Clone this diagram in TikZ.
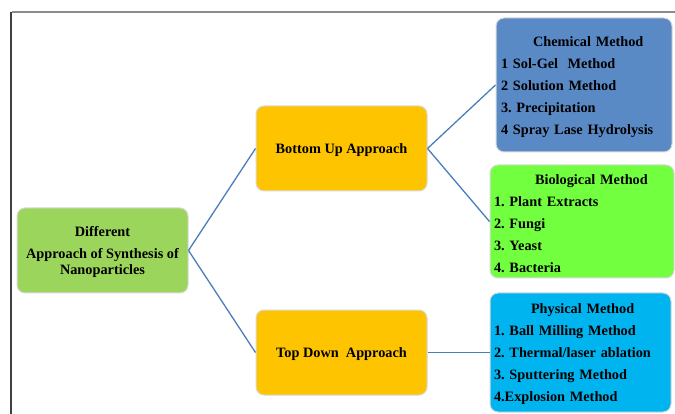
\documentclass[tikz,border=0pt]{standalone}
\usepackage{fontspec}
\setmainfont{Liberation Serif}
\frenchspacing
\definecolor{leafgreen}{HTML}{9CD55B}
\definecolor{amber}{HTML}{FFC400}
\definecolor{steelblue}{HTML}{5A8AC6}
\definecolor{limegreen}{HTML}{72FF40}
\definecolor{skyblue}{HTML}{00B4F0}
\definecolor{linkblue}{HTML}{4A7EBB}
\begin{document}
\begin{tikzpicture}[x=1pt,y=-1pt,
        box/.style={draw=white!85!black, line width=1pt, rounded corners=8pt,
            font=\bfseries\fontsize{14.3}{22}\selectfont},
        approach/.style={box, fill=amber, text depth=0pt, minimum width=171pt, minimum height=85pt},
        method/.style={box, align=left, inner ysep=2pt},
        link/.style={draw=linkblue, line width=1.3pt}]
        \useasboundingbox (0,0) rectangle (675,414);
        \fill[white] (0,0) rectangle (675,414);
        %draw the outer frame
        \draw[line width=1.5pt, color=gray!90] (11.5,12) -- (675,12);
        \draw[line width=1.5pt, color=black!75] (11,12) -- (11,414);

        %main node and the two approaches
        \node[box, fill=leafgreen, text depth=0pt, minimum width=171pt, minimum height=85pt, align=center,
            font=\bfseries\fontsize{14.3}{15.5}\selectfont] (diff) at (102.5,250.5)
            {Different\\[6.5pt]Approach of Synthesis of\\Nanoparticles};
        \node[approach] (bottomup) at (341.5,148.5) {Bottom Up Approach};
        \node[approach] (topdown) at (341.5,352.5) {Top Down~ Approach};

        %the methods
        \node[method, fill=steelblue, inner xsep=5pt, text width=166pt, minimum height=134pt] (chem) at (584,85)
            {\rule{0pt}{14pt}\hspace*{32pt}Chemical Method\\1 Sol-Gel~ Method\\2 Solution Method\\3. Precipitation\\4 Spray Lase Hydrolysis};
        \node[method, fill=limegreen, inner xsep=4pt, text width=176pt, minimum height=113pt] (bio) at (582,221.5)
            {\rule{0pt}{14pt}\hspace*{41pt}Biological Method\\1. Plant Extracts\\2. Fungi\\3. Yeast\\4. Bacteria};
        \node[method, fill=skyblue, inner xsep=4pt, text width=173pt, minimum height=119pt] (phys) at (580.5,352.5)
            {\rule{0pt}{14pt}\hspace*{37pt}Physical Method\\1. Ball Milling Method\\2. Thermal/laser ablation\\3. Sputtering Method\\4.Explosion Method};

        %connectors
        \draw[link] (diff.east) -- (bottomup.west);
        \draw[link] (diff.east) -- (topdown.west);
        \draw[link] (bottomup.east) -- (chem.west);
        \draw[link] (bottomup.east) -- (bio.west);
        \draw[link] (topdown.east) -- (phys.west);
    \end{tikzpicture}
\end{document}
